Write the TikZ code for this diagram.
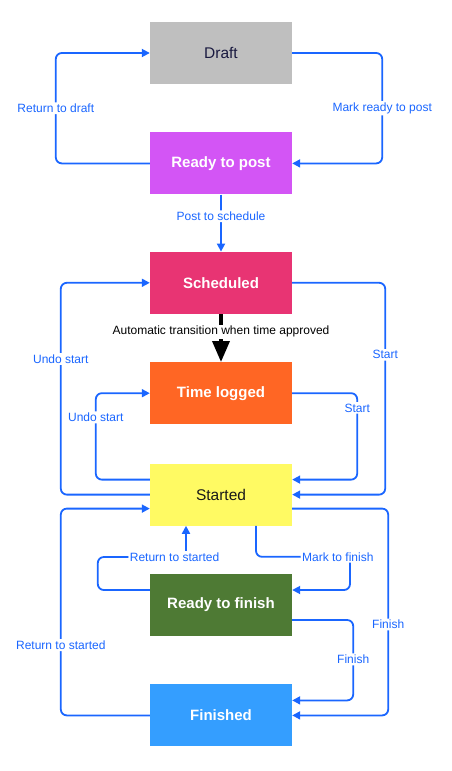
\documentclass[tikz,border=0pt]{standalone}
\usepackage{fontspec}
\setmainfont{Liberation Sans}
\usetikzlibrary{positioning,arrows.meta,calc}
\tikzset{>={Triangle[length=8pt,width=8pt]}}
\definecolor{flow}{HTML}{1A66FF}
\definecolor{draftgray}{HTML}{BFBFBF}
\definecolor{draftink}{HTML}{1A1A40}
\definecolor{postpurple}{HTML}{D355F5}
\definecolor{schedpink}{HTML}{E83473}
\definecolor{loggedorange}{HTML}{FF6624}
\definecolor{startyellow}{HTML}{FFFA63}
\definecolor{finishgreen}{HTML}{4E7A34}
\definecolor{doneblue}{HTML}{349EFF}

\begin{document}
\begin{tikzpicture}[x=1pt, y=-1pt, node distance=48pt,
    status/.style={rectangle, minimum width=142pt, minimum height=62pt, inner sep=0pt,
      font=\fontsize{15}{18}\selectfont\bfseries, text=white},
    plain/.style={status, font=\fontsize{15.5}{18}\selectfont},
    move/.style={->, draw=flow, line width=1.8pt, rounded corners=6pt},
    lbl/.style={fill=white, text=flow, inner sep=1.5pt, font=\fontsize{12}{14}\selectfont}]
  \useasboundingbox (0,0) rectangle (451,771);
  \node[plain, fill=draftgray, text=draftink] (draft) at (221,53) {Draft};
  \node[status, fill=postpurple] (ready) [below=of draft] {Ready to post};
  \node[status, fill=schedpink] (sched) [below=57pt of ready] {Scheduled};
  \node[status, fill=loggedorange] (logged) [below=of sched] {Time logged};
  \node[plain, fill=startyellow, text=black!90] (started) [below=39pt of logged] {Started};
  \node[status, fill=finishgreen] (rtf) [below=of started] {Ready to finish};
  \node[status, fill=doneblue] (done) [below=of rtf] {Finished};

  \draw[move] (draft.east) -- ++(90,0) |- node[lbl, pos=0.25] {Mark ready to post} (ready.east);
  \draw[move] (ready.west) -- ++(-94,0) |- node[lbl, pos=0.25] {Return to draft} (draft.west);
  \draw[move] (ready) -- node[lbl, pos=0.38] {Post to schedule} (sched);
  % automatic step
  \draw[line width=3.6pt, -{Triangle[length=21pt,width=17pt]}] (sched) --
    node[lbl, pos=0.37, text=black] {Automatic transition when time approved} (logged);

  \draw[move] (started.west) -- ++(-89,0) |- node[lbl, pos=0.32] {Undo start} (sched.west);
  \draw[move] (sched.east) -- ++(93,0) |- node[lbl, pos=0.17] {Start} (started.east);
  \draw[move] ([yshift=15pt]started.west) -- ++(-54,0) |- node[lbl, pos=0.36] {Undo start} (logged.west);
  \draw[move] (logged.east) -- ++(65,0) |- node[lbl, pos=0.085] {Start} ([yshift=15pt]started.east);

  \draw[move] (done.west) -- ++(-89,0) |- node[lbl, pos=0.17] {Return to started} ([yshift=-14pt]started.west);
  \draw[move] ([yshift=-14pt]started.east) -- ++(96,0) |- node[lbl, pos=0.28] {Finish} (done.east);
  \draw[move] ([xshift=35pt]started.south) -- ++(0,31) -- node[lbl, pos=0.87] {Mark to finish} ++(94,0)
    |- ([yshift=15pt]rtf.east);
  \draw[move] ([yshift=15pt]rtf.west) -- ++(-52,0) -- ++(0,-33)
    -| node[lbl, pos=0.435] {Return to started} ([xshift=-35pt]started.south);
  \draw[move] ([yshift=-15pt]rtf.east) -- ++(61,0) |- node[lbl, pos=0.245] {Finish} ([yshift=15pt]done.east);
\end{tikzpicture}
\end{document}
